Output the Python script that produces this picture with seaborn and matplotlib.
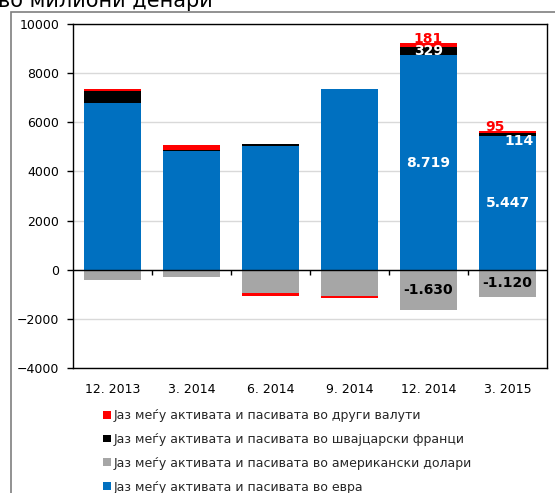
import numpy as np
import pandas as pd
import matplotlib
matplotlib.use("Agg")
import matplotlib.pyplot as plt
from matplotlib.patches import Patch, Rectangle
import seaborn as sns

# Currency gap between assets and liabilities, millions of denars
periods = ["12. 2013", "3. 2014", "6. 2014", "9. 2014", "12. 2014", "3. 2015"]
gap_eur = [6780, 4840, 5030, 7350, 8719, 5447]
gap_usd = [-430, -300, -960, -1050, -1630, -1120]
gap_chf = [510, 50, 90, 0, 329, 114]
gap_other = [70, 200, -90, -110, 181, 95]

labels_eur = "Јаз меѓу активата и пасивата во евра"
labels_usd = "Јаз меѓу активата и пасивата во американски долари"
labels_chf = "Јаз меѓу активата и пасивата во швајцарски франци"
labels_other = "Јаз меѓу активата и пасивата во други валути"

c_eur, c_usd, c_chf, c_other = "#0070C0", "#A6A6A6", "#000000", "#FF0000"

# periods whose segments carry value labels
annotated = ["12. 2014", "3. 2015"]

sns.set_theme(style="white")
plt.rcParams["font.family"] = ["DejaVu Sans"]

fig = plt.figure(figsize=(5.55, 4.93), dpi=100)
ax = fig.add_axes([73 / 555, 1 - 368 / 493, (547 - 73) / 555, (368 - 24) / 493])

stack = [
    ("eur", gap_eur, c_eur, labels_eur),
    ("usd", gap_usd, c_usd, labels_usd),
    ("chf", gap_chf, c_chf, labels_chf),
    ("other", gap_other, c_other, labels_other),
]

pos_base = np.zeros(len(periods))
neg_base = np.zeros(len(periods))
segments = {}
for key, vals, color, name in stack:
    v = np.asarray(vals, dtype=float)
    bottom = np.where(v >= 0, pos_base, neg_base)
    df = pd.DataFrame({"period": periods, "value": v})
    sns.barplot(data=df, x="period", y="value", order=periods, bottom=bottom,
                color=color, width=0.73, errorbar=None, linewidth=0,
                saturation=1, ax=ax, zorder=3)
    segments[key] = (v, bottom)
    pos_base = pos_base + np.where(v >= 0, v, 0)
    neg_base = neg_base + np.where(v < 0, v, 0)

def fmt(v):
    return f"{int(v):,}".replace(",", ".")

# value labels
for p in annotated:
    i = periods.index(p)
    v, b = segments["eur"]
    ax.text(i, b[i] + v[i] / 2, fmt(v[i]), ha="center", va="center",
            color="white", fontsize=10, fontweight="bold", zorder=5)
    v, b = segments["usd"]
    ax.text(i, b[i] + v[i] / 2, fmt(v[i]), ha="center", va="center",
            color="black", fontsize=10, fontweight="bold", zorder=5)
    v, b = segments["chf"]
    dx, dy = (0, 0) if v[i] > 250 else (8, -5)
    ax.annotate(fmt(v[i]), (i, b[i] + v[i] / 2), xytext=(dx, dy),
                textcoords="offset points", ha="center", va="center",
                color="white", fontsize=10, fontweight="bold", zorder=5)
    v, b = segments["other"]
    dx = 0 if v[i] > 150 else -9
    ax.annotate(fmt(v[i]), (i, b[i] + v[i]), xytext=(dx, -2),
                textcoords="offset points", ha="center", va="bottom",
                color=c_other, fontsize=10, fontweight="bold", zorder=5)

ax.set_ylim(-4000, 10000)
ax.set_xlim(-0.5, len(periods) - 0.5)
ax.set_yticks(np.arange(-4000, 10001, 2000))
ax.yaxis.grid(True, color="#D9D9D9", linewidth=1)
ax.set_axisbelow(True)
ax.set_xlabel("")
ax.set_ylabel("")
for s in ax.spines.values():
    s.set_visible(True)
    s.set_color("black")
    s.set_linewidth(1)
ax.tick_params(axis="y", which="major", left=True, length=4, width=1,
               color="black", direction="out", pad=6, labelsize=9,
               labelcolor="black")
ax.tick_params(axis="x", length=0, pad=11, labelsize=9, labelcolor="black")

# zero line with category separators
ax.axhline(0, color="black", linewidth=1, zorder=4)
ax.vlines(np.arange(0.5, len(periods) - 0.5, 1), -200, 0, color="black",
          linewidth=1, zorder=4)

# outer chart border
fig.add_artist(Rectangle((11 / 555, -0.1), 1.2, 1.1 - 12.5 / 493,
                         transform=fig.transFigure, fill=False,
                         edgecolor="#7F7F7F", linewidth=1.2))

fig.text(-0.003, 1 - 7 / 493, "во милиони денари", fontsize=15,
         ha="left", va="baseline", color="black")

handles = [Patch(facecolor=c, edgecolor="none") for c in
           (c_other, c_chf, c_usd, c_eur)]
names = [labels_other, labels_chf, labels_usd, labels_eur]
fig.legend(handles, names, loc="upper left",
           bbox_to_anchor=(103 / 555, 1 - 409 / 493), frameon=False,
           fontsize=9, handlelength=0.6, handleheight=0.6, handletextpad=0.25,
           labelspacing=0.87, borderpad=0, borderaxespad=0)

fig.savefig("out.png", dpi=100)
